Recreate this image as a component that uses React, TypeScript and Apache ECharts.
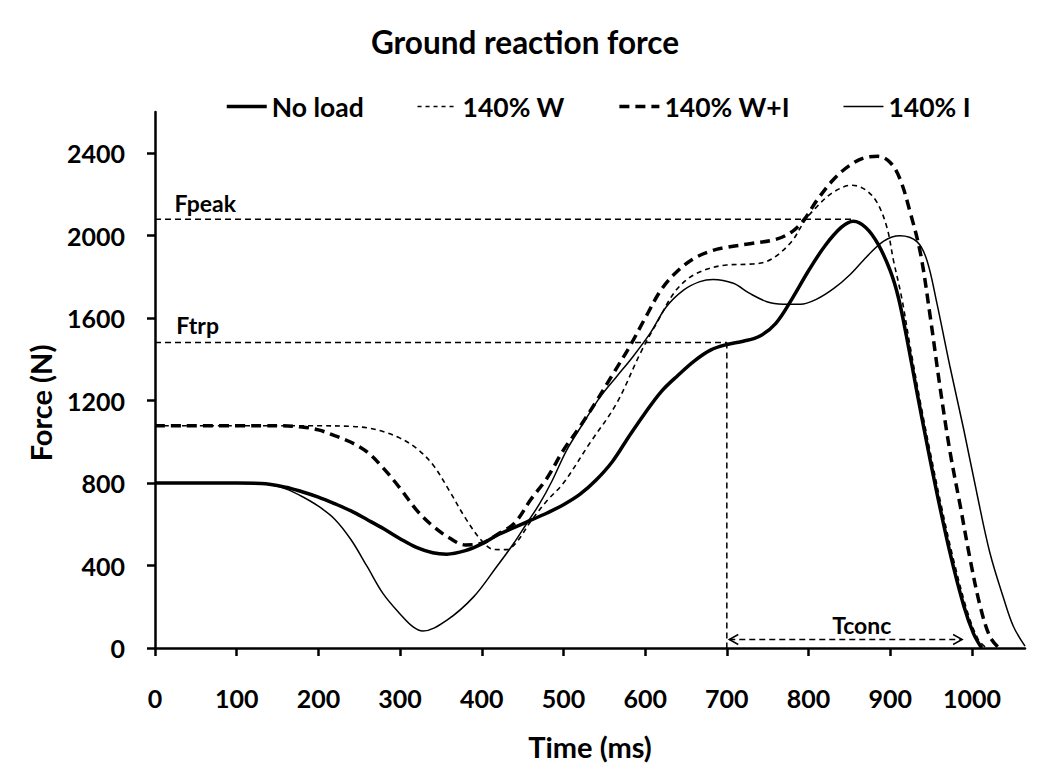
import React, { useEffect, useRef } from "react";
import * as echarts from "echarts";

const titleText = "Ground reaction force";
const seriesNames = ["No load", "140% W", "140% W+I", "140% I"];
const xTicks = [0, 100, 200, 300, 400, 500, 600, 700, 800, 900, 1000];
const yTicks = [0, 400, 800, 1200, 1600, 2000, 2400];

// [time (ms), force (N)]
const noLoad: [number, number][] = [
  [0, 800], [100, 800], [130, 798], [160, 780], [180, 758], [200, 732], [220, 700],
  [240, 665], [260, 622], [280, 578], [300, 530], [320, 488], [340, 462], [357, 455],
  [380, 472], [400, 505], [420, 550], [440, 585], [460, 620], [480, 655], [500, 695],
  [520, 745], [540, 815], [560, 905], [580, 1025], [600, 1140], [620, 1245], [640, 1322],
  [660, 1392], [680, 1445], [700, 1472], [720, 1488], [740, 1512], [760, 1575],
  [780, 1695], [800, 1830], [820, 1950], [840, 2040], [855, 2070], [870, 2040],
  [885, 1960], [900, 1830], [910, 1700], [920, 1510], [933, 1235], [945, 990],
  [957, 755], [973, 465], [990, 205], [1002, 70], [1012, 0]
];

const w140: [number, number][] = [
  [0, 1078], [200, 1078], [240, 1075], [260, 1068], [280, 1049], [300, 1018],
  [320, 969], [340, 890], [360, 765], [380, 630], [400, 520], [415, 478], [430, 477],
  [443, 515], [460, 615], [480, 715], [500, 800], [532, 992], [565, 1186], [594, 1429],
  [614, 1575], [638, 1736], [663, 1817], [700, 1858], [728, 1862], [745, 1870],
  [760, 1900], [780, 1975], [795, 2070], [810, 2140], [830, 2210], [853, 2245],
  [870, 2222], [884, 2160], [896, 2040], [904, 1880], [914, 1700], [925, 1450],
  [938, 1170], [950, 930], [962, 700], [978, 420], [995, 170], [1008, 40], [1018, 0]
];

const wi140: [number, number][] = [
  [0, 1078], [150, 1078], [180, 1072], [200, 1058], [220, 1030], [240, 998],
  [260, 950], [280, 870], [300, 775], [320, 670], [340, 592], [360, 535], [380, 500],
  [400, 508], [420, 553], [440, 605], [460, 720], [480, 825], [500, 960], [520, 1073],
  [540, 1195], [560, 1325], [580, 1455], [600, 1600], [620, 1740], [640, 1830],
  [660, 1890], [680, 1925], [700, 1944], [730, 1962], [760, 1982], [780, 2020],
  [795, 2080], [810, 2170], [830, 2270], [850, 2340], [870, 2380], [885, 2385],
  [900, 2355], [912, 2275], [924, 2120], [937, 1915], [949, 1607], [961, 1265],
  [973, 957], [986, 684], [998, 427], [1010, 205], [1022, 55], [1033, 0]
];

const i140: [number, number][] = [
  [0, 800], [120, 800], [140, 793], [160, 772], [180, 735], [200, 688], [220, 625],
  [240, 525], [260, 393], [279, 265], [300, 165], [316, 102], [328, 82], [357, 134],
  [390, 248], [418, 393], [439, 507], [455, 604], [471, 701], [486, 810], [504, 960],
  [524, 1089], [545, 1218], [565, 1316], [585, 1413], [606, 1526], [626, 1655],
  [647, 1736], [667, 1777], [683, 1788], [708, 1769], [728, 1720], [749, 1680],
  [769, 1668], [790, 1667], [810, 1692], [831, 1744], [851, 1812], [871, 1897],
  [892, 1974], [912, 2000], [933, 1970], [945, 1880], [957, 1675], [973, 1368],
  [990, 1060], [1006, 752], [1022, 462], [1039, 239], [1051, 103], [1065, 9]
];

// reference markers
const fPeakLine: [number, number][] = [[0, 2080], [852, 2080]];
const fTrpLine: [number, number][] = [[0, 1482], [700, 1482]];
const tTrpLine: [number, number][] = [[700, 1482], [700, 0]];
const tConcArrow: [number, number][] = [[703, 41], [988, 41]];
const annotationNames = ["Fpeak", "Ftrp", "Tconc"];
const annotationAt: [number, number][] = [[24, 2157], [26, 1565], [829, 110]];

const FONT = "Lato, 'Open Sans', sans-serif";

export default function App() {
  const ref = useRef<HTMLDivElement>(null);
  useEffect(() => {
    document.body.style.margin = "0";
    const chart = echarts.init(ref.current!, null, { renderer: "svg" });
    const refLine = { color: "#000", width: 1.5, type: [6, 4] as number[] };
    const fmt = (v: number) => String(v);
    const legendWidths = [3.5, 1.6, 3.5, 1.5];
    const legendTypes: any[] = ["solid", [4, 4], [10, 6], "solid"];
    chart.setOption({
      animation: false,
      backgroundColor: "#fff",
      textStyle: { fontFamily: FONT },
      title: {
        text: titleText,
        left: "center",
        top: 21,
        textStyle: { fontFamily: FONT, fontWeight: "bold", fontSize: 31.5, color: "#000" }
      },
      legend: {
        data: seriesNames.map((n, i) => ({
          name: n,
          lineStyle: { color: "#000", width: legendWidths[i], type: legendTypes[i] }
        })),
        left: 220,
        top: 88,
        itemWidth: 40,
        itemHeight: 14,
        itemGap: 53,
        itemStyle: { opacity: 0 },
        textStyle: { fontFamily: FONT, fontWeight: "bold", fontSize: 26.5, color: "#000" }
      },
      grid: { left: 155, right: 25, top: 112, bottom: 136 },
      xAxis: {
        type: "value",
        min: 0,
        max: 1065,
        name: "Time (ms)",
        nameLocation: "middle",
        nameGap: 84,
        nameTextStyle: { fontFamily: FONT, fontWeight: "bold", fontSize: 29, color: "#000" },
        splitLine: { show: false },
        axisLine: { lineStyle: { color: "#000", width: 2.5 } },
        axisTick: { show: true, length: 8, lineStyle: { color: "#000", width: 2.5 }, customValues: xTicks },
        axisLabel: {
          customValues: xTicks,
          formatter: fmt,
          margin: 37,
          fontFamily: FONT,
          fontWeight: "bold",
          fontSize: 25,
          color: "#000"
        }
      },
      yAxis: {
        type: "value",
        min: 0,
        max: 2600,
        splitLine: { show: false },
        axisLine: { show: true, lineStyle: { color: "#000", width: 2.5 } },
        axisTick: { show: true, length: 8, lineStyle: { color: "#000", width: 2.5 }, customValues: yTicks },
        axisLabel: {
          customValues: yTicks,
          formatter: fmt,
          margin: 30,
          fontFamily: FONT,
          fontWeight: "bold",
          fontSize: 25,
          color: "#000"
        }
      },
      series: [
        {
          name: "140% I",
          type: "line",
          data: i140,
          symbol: "none",
          smooth: 0.35,
          lineStyle: { color: "#000", width: 1.5, type: "solid" },
          itemStyle: { color: "#000" }
        },
        {
          name: "140% W",
          type: "line",
          data: w140,
          symbol: "none",
          smooth: 0.35,
          lineStyle: { color: "#000", width: 1.6, type: [5, 4] },
          itemStyle: { color: "#000" }
        },
        {
          name: "140% W+I",
          type: "line",
          data: wi140,
          symbol: "none",
          smooth: 0.35,
          lineStyle: { color: "#000", width: 3.5, type: [10, 6] },
          itemStyle: { color: "#000" }
        },
        {
          name: "No load",
          type: "line",
          data: noLoad,
          symbol: "none",
          smooth: 0.35,
          lineStyle: { color: "#000", width: 3.5, type: "solid" },
          itemStyle: { color: "#000" }
        },
        { type: "line", data: fPeakLine, symbol: "none", lineStyle: refLine, silent: true },
        { type: "line", data: fTrpLine, symbol: "none", lineStyle: refLine, silent: true },
        { type: "line", data: tTrpLine, symbol: "none", lineStyle: refLine, silent: true },
        {
          type: "line",
          silent: true,
          lineStyle: refLine,
          showSymbol: true,
          itemStyle: { color: "none", borderColor: "#000", borderWidth: 1.5 },
          data: [
            { value: tConcArrow[0], symbol: "path://M10,0 L0,5 L10,10", symbolSize: [9, 10], symbolOffset: [4.5, 0] },
            { value: tConcArrow[1], symbol: "path://M0,0 L10,5 L0,10", symbolSize: [9, 10], symbolOffset: [-4.5, 0] }
          ]
        }
      ]
    });
    const texts: any[] = annotationNames.map((name, i) => {
      const p = chart.convertToPixel({ gridIndex: 0 }, annotationAt[i]) as number[];
      return {
        type: "text",
        x: p[0],
        y: p[1],
        silent: true,
        style: {
          text: name,
          fontFamily: FONT,
          fontWeight: "bold",
          fontSize: 23,
          fill: "#000",
          align: "left",
          verticalAlign: "middle"
        }
      };
    });
    texts.push({
      type: "text",
      x: 40,
      y: 403,
      rotation: Math.PI / 2,
      silent: true,
      style: {
        text: "Force (N)",
        fontFamily: FONT,
        fontWeight: "bold",
        fontSize: 29,
        fill: "#000",
        align: "center",
        verticalAlign: "middle"
      }
    });
    chart.setOption({ graphic: texts });
    return () => chart.dispose();
  }, []);
  return <div ref={ref} style={{ width: 1050, height: 784 }} />;
}
